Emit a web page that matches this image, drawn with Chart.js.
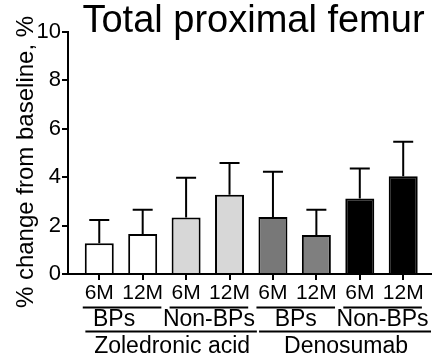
<!DOCTYPE html>
<html>
<head>
<meta charset="utf-8">
<script src="https://cdn.jsdelivr.net/npm/chart.js@4"></script>
<style>
  html, body { margin: 0; padding: 0; background: #fff; }
  #wrap { width: 436px; height: 359px; }
</style>
</head>
<body>
<div id="wrap"><canvas id="c" width="436" height="359"></canvas></div>
<script>
// ---- data ----
const categories = ["ZA BPs 6M", "ZA BPs 12M", "ZA Non-BPs 6M", "ZA Non-BPs 12M",
                    "Dmab BPs 6M", "Dmab BPs 12M", "Dmab Non-BPs 6M", "Dmab Non-BPs 12M"];
const tickLabels = ["6M", "12M", "6M", "12M", "6M", "12M", "6M", "12M"];
const meanChange = [1.27, 1.65, 2.33, 3.27, 2.36, 1.61, 3.12, 4.04];
const errorUpper = [2.23, 2.65, 3.98, 4.59, 4.23, 2.65, 4.36, 5.47];
const barColors = ["#ffffff", "#ffffff", "#d7d7d7", "#d7d7d7", "#787878", "#7f7f7f", "#000000", "#000000"];
const subGroupLabels = ["BPs", "Non-BPs", "BPs", "Non-BPs"];
const subGroupStart = [0, 2, 4, 6];
const subGroupEnd = [1, 3, 5, 7];
const drugLabels = ["Zoledronic acid", "Denosumab"];
const drugStart = [0, 4];
const drugEnd = [3, 7];
const yTicks = [0, 2, 4, 6, 8, 10];
const titleText = "Total proximal femur";
const yTitleText = "% change from baseline, %";

const FONT = "'Liberation Sans', Arial, sans-serif";

const errorBarPlugin = {
  id: 'errorBars',
  afterDatasetsDraw(chart) {
    const ctx = chart.ctx;
    const xs = chart.scales.x, ys = chart.scales.y;
    ctx.save();
    ctx.strokeStyle = '#000';
    ctx.lineWidth = 2;
    meanChange.forEach((v, i) => {
      const x = xs.getPixelForValue(i);
      const y0 = ys.getPixelForValue(v);
      const y1 = ys.getPixelForValue(errorUpper[i]);
      ctx.beginPath();
      ctx.moveTo(x, y0);
      ctx.lineTo(x, y1);
      ctx.moveTo(x - 10, y1);
      ctx.lineTo(x + 10, y1);
      ctx.stroke();
    });
    ctx.restore();
  }
};

const labelsPlugin = {
  id: 'groupLabels',
  afterDraw(chart) {
    const ctx = chart.ctx;
    const xs = chart.scales.x;
    ctx.save();
    ctx.fillStyle = '#000';
    ctx.strokeStyle = '#000';
    ctx.lineWidth = 2;
    // title
    ctx.font = "38px " + FONT;
    ctx.textAlign = 'center';
    ctx.textBaseline = 'alphabetic';
    ctx.fillText(titleText, 253.5, 32);
    // y title
    ctx.save();
    ctx.translate(32.5, 162);
    ctx.rotate(-Math.PI / 2);
    ctx.font = "24px " + FONT;
    ctx.fillText(yTitleText, 0, 0);
    ctx.restore();
    // sub group lines + labels
    ctx.font = "23px " + FONT;
    subGroupLabels.forEach((lab, k) => {
      const a = xs.getPixelForValue(subGroupStart[k] - 0.38);
      const b = xs.getPixelForValue(subGroupEnd[k] + 0.43);
      ctx.beginPath();
      ctx.moveTo(a, 307.5);
      ctx.lineTo(b, 307.5);
      ctx.stroke();
      const shift = k === 0 ? -8 : 0;
      ctx.fillText(lab, (a + b) / 2 + shift, 326);
    });
    drugLabels.forEach((lab, k) => {
      const a = xs.getPixelForValue(drugStart[k] - 0.32);
      const b = xs.getPixelForValue(drugEnd[k] + (k === 0 ? 0.63 : 0.64));
      ctx.beginPath();
      ctx.moveTo(a, 331.5);
      ctx.lineTo(b, 331.5);
      ctx.stroke();
      ctx.fillText(lab, (a + b) / 2 + 1, 353);
    });
    ctx.restore();
  }
};

new Chart(document.getElementById('c'), {
  type: 'bar',
  data: {
    datasets: [{
      data: meanChange.map((v, i) => ({ x: i, y: v })),
      backgroundColor: barColors,
      borderColor: '#000',
      borderWidth: 2,
      barPercentage: 0.668,
      categoryPercentage: 1
    }]
  },
  options: {
    responsive: false,
    animation: false,
    devicePixelRatio: 1,
    layout: { padding: { top: 32, right: 5, bottom: 0, left: 0 } },
    plugins: { legend: { display: false }, tooltip: { enabled: false }, title: { display: false } },
    scales: {
      x: {
        type: 'linear',
        min: -0.72,
        max: 7.64,
        offset: false,
        grid: { display: true, offset: false, drawOnChartArea: false, drawTicks: true, tickLength: 6, color: '#000', lineWidth: 2 },
        border: { display: true, color: '#000', width: 2 },
        afterBuildTicks(scale) { scale.ticks = categories.map((c, i) => ({ value: i })); },
        afterFit(scale) { scale.height = 85; },
        ticks: {
          autoSkip: false, maxRotation: 0, minRotation: 0, padding: 1,
          color: '#000', font: { family: FONT, size: 21 },
          callback: (v) => tickLabels[v]
        }
      },
      y: {
        min: 0, max: 10,
        afterBuildTicks(scale) { scale.ticks = yTicks.map(v => ({ value: v })); },
        afterFit(scale) { scale.width = 68; },
        grid: { display: true, drawOnChartArea: false, drawTicks: true, tickLength: 6, color: '#000', lineWidth: 2 },
        border: { display: true, color: '#000', width: 2 },
        ticks: { padding: 1, color: '#000', font: { family: FONT, size: 22 } }
      }
    }
  },
  plugins: [errorBarPlugin, labelsPlugin]
});
</script>
</body>
</html>
